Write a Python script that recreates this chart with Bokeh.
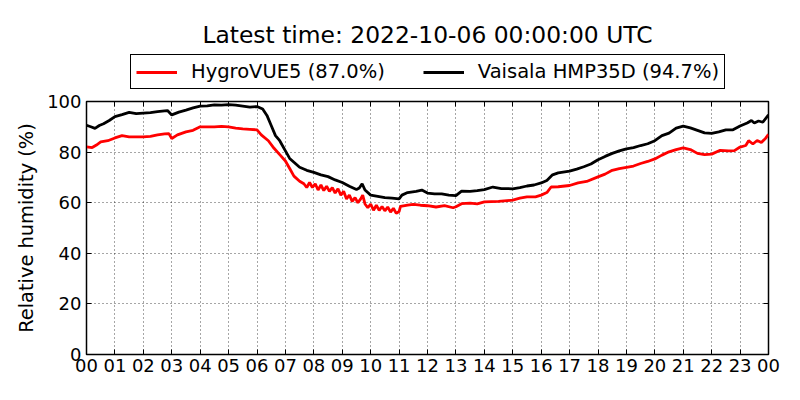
from bokeh.plotting import figure
from bokeh.layouts import column
from bokeh.models import Legend, LegendItem, LinearAxis, FixedTicker, Range1d
from bokeh.embed import file_html
from bokeh.resources import INLINE

title_text = "Latest time: 2022-10-06 00:00:00 UTC"
y_label = "Relative humidity (%)"
legend_labels = ["HygroVUE5 (87.0%)", "Vaisala HMP35D (94.7%)"]
x_ticks = list(range(25))
x_tick_labels = ["00", "01", "02", "03", "04", "05", "06", "07", "08", "09", "10", "11",
                 "12", "13", "14", "15", "16", "17", "18", "19", "20", "21", "22", "23", "00"]
y_ticks = [0, 20, 40, 60, 80, 100]

# Vaisala HMP35D (black), hours since 00 UTC
vaisala_hours = [0.0, 0.15, 0.3, 0.45, 0.6, 0.8, 1.0, 1.25, 1.5, 1.75, 2.0, 2.25, 2.5, 2.75, 2.85,
                 3.0, 3.25, 3.5, 3.75, 4.0, 4.25, 4.5, 4.75, 5.0, 5.25, 5.5, 5.75, 6.0, 6.2, 6.35,
                 6.5, 6.65, 6.8, 7.0, 7.15, 7.3, 7.5, 7.75, 8.0, 8.25, 8.5, 8.75, 9.0, 9.25, 9.5,
                 9.6, 9.7, 9.8, 10.0, 10.25, 10.5, 10.75, 11.0, 11.1, 11.3, 11.6, 11.8, 12.0, 12.25,
                 12.5, 12.75, 13.0, 13.2, 13.5, 13.75, 14.0, 14.3, 14.6, 15.0, 15.25, 15.5, 15.75,
                 16.0, 16.2, 16.4, 16.6, 17.0, 17.25, 17.5, 17.75, 18.0, 18.25, 18.5, 18.75, 19.0,
                 19.25, 19.5, 19.75, 20.0, 20.25, 20.5, 20.75, 21.0, 21.25, 21.5, 21.75, 22.0,
                 22.25, 22.5, 22.75, 23.0, 23.25, 23.4, 23.5, 23.65, 23.8, 24.0]
vaisala_rh = [90.6, 90.0, 89.4, 90.5, 91.2, 92.5, 94.0, 94.8, 95.7, 95.2, 95.4, 95.6, 96.0, 96.3, 96.4,
              94.7, 95.8, 96.6, 97.5, 98.2, 98.3, 98.7, 98.6, 98.8, 98.6, 98.2, 97.8, 98.0, 97.0, 94.5,
              90.5, 86.5, 84.5, 80.5, 77.5, 76.0, 74.0, 72.8, 72.0, 71.0, 70.3, 69.0, 68.0, 66.5, 65.2,
              65.8, 67.5, 65.0, 63.0, 62.5, 62.0, 61.8, 61.5, 63.0, 64.0, 64.5, 65.0, 63.8, 63.5,
              63.5, 63.0, 62.8, 64.6, 64.5, 64.8, 65.2, 66.2, 65.6, 65.5, 66.0, 66.6, 67.0,
              67.8, 68.8, 71.0, 71.8, 72.5, 73.3, 74.2, 75.3, 77.0, 78.3, 79.5, 80.5, 81.3,
              81.8, 82.6, 83.3, 84.5, 86.5, 87.5, 89.5, 90.3, 89.6, 88.6, 87.6, 87.4,
              88.0, 88.8, 88.8, 90.3, 91.5, 92.5, 91.5, 92.3, 91.8, 94.7]

# HygroVUE5 (red)
hygro_hours = [0.0, 0.2, 0.35, 0.5, 0.75, 1.0, 1.25, 1.5, 1.75, 2.0, 2.25, 2.5, 2.75, 2.9, 3.0, 3.2,
               3.5, 3.75, 4.0, 4.5, 4.75, 5.0, 5.25, 5.5, 5.75, 6.0, 6.15, 6.4, 6.6, 6.8, 7.0, 7.15,
               7.3, 7.5, 7.65, 7.75, 7.85, 7.95, 8.05, 8.15, 8.25, 8.35, 8.45, 8.55, 8.65, 8.75,
               8.85, 8.95, 9.05, 9.15, 9.25, 9.35, 9.45, 9.55, 9.65, 9.72, 9.8, 9.9, 10.0, 10.1,
               10.2, 10.3, 10.4, 10.5, 10.6, 10.7, 10.8, 10.9, 11.0, 11.05, 11.3, 11.5,
               11.75, 12.0, 12.3, 12.6, 12.9, 13.0, 13.2, 13.5, 13.75, 14.0, 14.5, 15.0, 15.25, 15.5,
               15.8, 16.0, 16.2, 16.35, 16.6, 17.0, 17.3, 17.6, 18.0, 18.25, 18.5, 18.75, 19.0, 19.25,
               19.5, 19.75, 20.0, 20.25, 20.5, 20.75, 21.0, 21.25, 21.5, 21.75, 22.0, 22.3, 22.6,
               22.8, 23.0, 23.2, 23.3, 23.45, 23.6, 23.75, 23.9, 24.0]
hygro_rh = [82.1, 81.8, 82.8, 84.0, 84.5, 85.6, 86.5, 86.0, 86.0, 86.0, 86.2, 86.8, 87.2, 87.3, 85.4, 86.8,
            88.0, 88.6, 90.0, 90.0, 90.2, 90.0, 89.5, 89.2, 89.0, 88.8, 86.8, 84.5, 81.5, 79.0, 76.5, 73.5,
            70.5, 68.5, 67.5, 66.0, 68.0, 66.0, 67.5, 65.0, 67.0, 64.8, 66.5, 64.5, 66.0, 63.8,
            65.5, 63.0, 64.5, 61.5, 63.0, 60.5, 62.0, 60.0, 61.5, 63.0, 59.5, 58.0, 59.5, 57.0,
            59.0, 57.0, 58.5, 56.8, 58.3, 56.3, 57.8, 55.8, 56.5, 58.5, 59.0, 59.3,
            59.0, 58.8, 58.3, 58.8, 58.0, 58.4, 59.6, 59.8, 59.5, 60.3, 60.5, 61.0, 61.8, 62.3,
            62.3, 63.0, 64.0, 66.2, 66.3, 66.8, 67.8, 68.4, 70.2, 71.3, 72.8, 73.5, 74.0, 74.5,
            75.5, 76.3, 77.3, 78.8, 80.1, 81.0, 81.7, 81.0, 79.5, 79.0, 79.2, 80.7, 80.5,
            80.6, 82.0, 82.6, 84.5, 83.2, 84.6, 83.8, 85.5, 87.0]

FONT = "DejaVu Sans"
series_colors = ["#ff0000", "black"]
LW = 2.8

# ---- header figure: title + legend (series drawn outside its view, used for the legend keys) ----
head = figure(width=792, height=90, output_backend="svg", toolbar_location=None,
              title=title_text, x_axis_type=None, y_axis_type=None,
              x_range=Range1d(0, 1), y_range=Range1d(0, 1),
              min_border_left=86, min_border_right=24, min_border_bottom=0, min_border_top=48)
head.outline_line_color = None
head.grid.visible = False
head.title.align = "center"
head.title.text_font = FONT
head.title.text_font_size = "23.4px"
head.title.text_font_style = "normal"
head.title.text_color = "black"
head.title.standoff = 0

h1 = head.line(hygro_hours, hygro_rh, line_color=series_colors[0], line_width=LW)
h2 = head.line(vaisala_hours, vaisala_rh, line_color=series_colors[1], line_width=LW)
legend = Legend(items=[LegendItem(label=legend_labels[0], renderers=[h1]),
                       LegendItem(label=legend_labels[1], renderers=[h2])],
                orientation="horizontal", location=(44, 1),
                label_text_font=FONT, label_text_font_size="19.5px", label_text_color="black",
                glyph_width=41, glyph_height=20, label_height=20, label_standoff=14,
                spacing=38, padding=5, margin=0,
                border_line_color="black", border_line_width=1, border_line_alpha=1,
                background_fill_color="white", background_fill_alpha=1)
head.add_layout(legend, "center")

# ---- main plot ----
p = figure(width=792, height=302, output_backend="svg", toolbar_location=None, title=None,
           x_range=Range1d(0, 24), y_range=Range1d(0, 100),
           min_border_left=86, min_border_right=24, min_border_bottom=38, min_border_top=11)
p.background_fill_color = "white"
p.border_fill_color = "white"
p.outline_line_color = "black"
p.outline_line_width = 1.5

r1 = p.line(hygro_hours, hygro_rh, line_color=series_colors[0], line_width=LW)
r2 = p.line(vaisala_hours, vaisala_rh, line_color=series_colors[1], line_width=LW)

for ax in (p.xaxis[0], p.yaxis[0]):
    ax.major_label_text_font = FONT
    ax.major_label_text_font_size = "18px"
    ax.major_label_text_color = "black"
    ax.major_tick_in = 5
    ax.major_tick_out = 0
    ax.minor_tick_line_color = None
    ax.axis_line_color = "black"
    ax.major_tick_line_color = "black"
p.xaxis.ticker = FixedTicker(ticks=x_ticks)
p.xaxis.major_label_overrides = {t: lab for t, lab in zip(x_ticks, x_tick_labels)}
p.xaxis.major_label_standoff = 4
p.yaxis.ticker = FixedTicker(ticks=y_ticks)
p.yaxis.major_label_standoff = 5
p.yaxis.axis_label = y_label
p.yaxis.axis_label_text_font = FONT
p.yaxis.axis_label_text_font_size = "19.4px"
p.yaxis.axis_label_text_font_style = "normal"
p.yaxis.axis_label_text_color = "black"
p.yaxis.axis_label_standoff = 6

right = LinearAxis(ticker=FixedTicker(ticks=y_ticks), major_label_text_alpha=0,
                   major_label_text_font_size="1px", major_tick_in=5, major_tick_out=0,
                   minor_tick_line_color=None, axis_line_color=None, major_label_standoff=0)
p.add_layout(right, "right")
top = LinearAxis(ticker=FixedTicker(ticks=x_ticks), major_label_text_alpha=0,
                 major_label_text_font_size="1px", major_tick_in=5, major_tick_out=0,
                 minor_tick_line_color=None, axis_line_color=None, major_label_standoff=0)
p.add_layout(top, "above")

for g in (p.xgrid[0], p.ygrid[0]):
    g.grid_line_color = "black"
    g.grid_line_dash = "1 3"
    g.grid_line_width = 1
    g.grid_line_alpha = 0.7
p.xgrid.ticker = FixedTicker(ticks=x_ticks)
p.ygrid.ticker = FixedTicker(ticks=y_ticks)

layout = column(head, p, spacing=0)
open("out.html", "w").write(file_html(layout, INLINE))
